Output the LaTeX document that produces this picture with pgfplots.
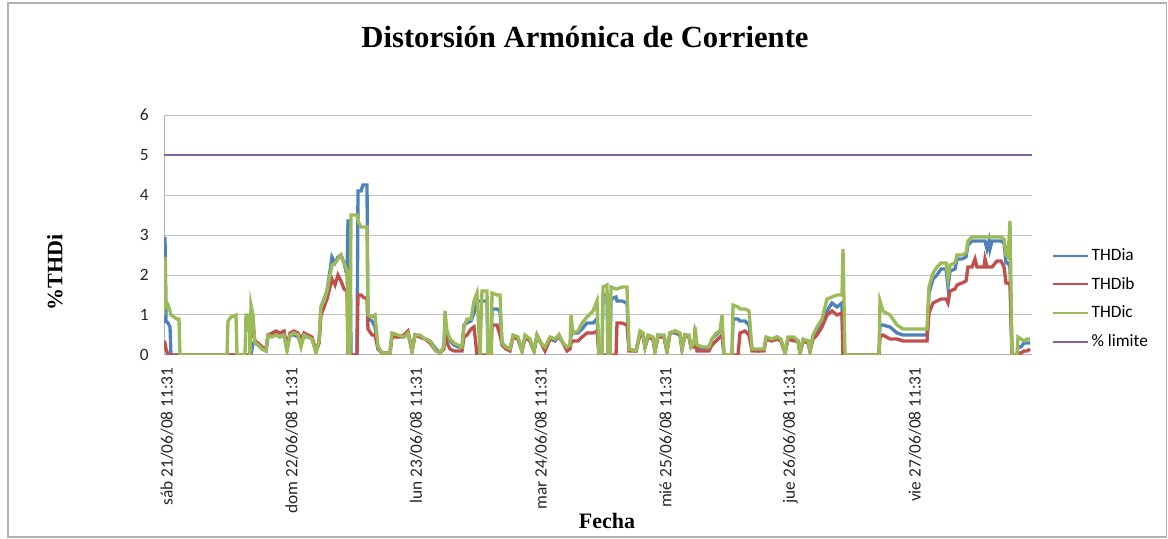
\documentclass[border=0pt]{standalone}
\usepackage{pgfplots}
\pgfplotsset{compat=1.18}
\usepackage{pgfplotstable}
\usepackage{fontspec}
\setmainfont{Liberation Serif}
\newfontfamily\calibri{Carlito}
\definecolor{thda}{RGB}{79,129,189}
\definecolor{thdb}{RGB}{192,80,77}
\definecolor{thdc}{RGB}{155,187,89}
\definecolor{lim}{RGB}{128,100,162}

% x: muestras desde sab 21/06/08 11:31 (124.7 por dia)
\pgfplotstableread{
x a b c
-3 0.8 0.35 1.0
-2 2.95 0.3 2.45
-1 0.85 0.15 1.2
1 0.8 0 1.25
3 0.7 0 1.1
4 0 0 1.0
7 0 0 0.95
10 0 0 0.9
12 0 0 0.9
13 0 0 0
60 0 0 0
61 0 0 0.85
64 0 0 0.95
69 0 0 1.0
70 0 0 0
78 0 0 0
79 0 0 1.0
82 0 0 1.0
83 0 0 0
84 0 1.0 1.25
86 0.3 0.6 1.0
88 0.3 0.35 0.3
91 0.25 0.3 0.25
95 0.15 0.2 0.15
99 0.1 0.15 0.1
101 0.45 0.5 0.5
105 0.5 0.55 0.45
109 0.5 0.6 0.5
113 0.45 0.55 0.45
117 0.5 0.6 0.5
120 0.15 0.2 0.1
123 0.5 0.55 0.5
127 0.5 0.6 0.55
131 0.45 0.55 0.5
134 0.3 0.4 0.2
137 0.45 0.55 0.5
141 0.45 0.5 0.45
145 0.4 0.45 0.4
149 0.1 0.1 0.05
152 0.3 0.3 0.35
154 1.2 1.0 1.2
157 1.4 1.2 1.35
160 1.6 1.4 1.6
163 2.1 1.7 2.0
165 2.45 1.9 2.25
168 2.3 1.75 2.3
171 2.45 2.0 2.4
174 2.5 1.85 2.5
177 2.3 1.65 2.3
180 2.0 1.6 2.1
181 3.35 0 0
183 3.35 0 0
184 0 0 3.5
190 0 0 3.5
191 4.1 1.5 3.35
194 4.1 1.5 3.2
196 4.25 1.45 3.2
200 4.25 1.4 3.2
201 0.9 0.65 1.0
205 0.85 0.5 0.95
208 0.7 0.5 1.0
211 0.2 0.15 0.2
215 0.05 0.05 0.05
223 0.05 0.05 0.05
225 0.5 0.45 0.55
231 0.45 0.45 0.5
237 0.45 0.5 0.45
241 0.55 0.6 0.55
245 0.1 0.1 0.1
248 0.5 0.5 0.5
253 0.45 0.45 0.5
258 0.4 0.4 0.4
263 0.35 0.3 0.35
269 0.15 0.1 0.1
273 0.05 0.05 0.05
277 0.2 0.15 0.2
278 0.8 0.6 1.1
280 0.55 0.3 0.6
283 0.35 0.15 0.4
287 0.25 0.1 0.3
291 0.2 0.1 0.25
295 0.2 0.1 0.2
297 0.75 0.45 0.7
300 0.8 0.5 0.9
304 0.85 0.65 0.9
307 1.05 0.7 1.35
310 1.35 0 1.55
313 1.35 0 0
315 1.35 0 1.6
320 1.35 0 1.6
321 0 0 0
324 0 0 0
325 1.15 0.75 1.55
330 1.15 0.75 1.5
333 1.1 0.5 1.5
335 0.3 0.25 0.3
339 0.2 0.15 0.2
343 0.15 0.1 0.15
346 0.45 0.45 0.5
351 0.4 0.4 0.45
355 0.1 0.1 0.1
358 0.45 0.45 0.5
363 0.35 0.35 0.4
367 0.1 0.1 0.1
370 0.45 0.5 0.5
374 0.3 0.3 0.3
378 0.15 0.1 0.2
383 0.4 0.4 0.45
388 0.35 0.4 0.4
392 0.5 0.45 0.5
396 0.3 0.3 0.3
400 0.15 0.1 0.2
403 0.2 0.15 0.25
404 0.5 0.3 1.0
406 0.55 0.35 0.55
411 0.55 0.35 0.6
415 0.65 0.45 0.8
420 0.8 0.55 0.95
426 0.8 0.55 1.1
430 0.9 0.6 1.35
432 0 0 0
435 0 0 0
436 1.5 0 1.7
440 1.5 0 1.75
441 0 0 0
443 0 0 0
444 1.4 0 1.7
449 1.45 0 1.65
450 1.35 0.8 1.65
455 1.35 0.8 1.7
460 1.3 0.75 1.7
462 0.15 0.1 0.15
469 0.1 0.1 0.1
473 0.55 0.5 0.6
476 0.5 0.5 0.55
478 0.2 0.2 0.2
481 0.45 0.45 0.5
486 0.4 0.4 0.45
488 0.1 0.1 0.1
491 0.5 0.45 0.5
497 0.45 0.45 0.5
500 0.1 0.1 0.1
503 0.55 0.55 0.55
508 0.55 0.6 0.6
513 0.5 0.5 0.55
515 0.15 0.15 0.15
518 0.5 0.5 0.5
522 0.45 0.45 0.5
524 0.2 0.2 0.2
527 0.25 0.2 0.3
528 0.5 0.4 0.7
530 0.2 0.1 0.25
536 0.15 0.1 0.2
542 0.2 0.1 0.2
545 0.4 0.25 0.4
549 0.5 0.35 0.55
553 0.6 0.45 0.6
555 0.7 0.5 1.0
557 0 0 0
565 0 0 0
566 0.9 0 1.25
571 0.9 0 1.2
573 0.85 0.55 1.15
578 0.85 0.6 1.15
582 0.75 0.5 1.1
585 0.15 0.1 0.15
591 0.1 0.1 0.15
597 0.15 0.1 0.15
599 0.4 0.4 0.45
605 0.4 0.35 0.4
610 0.45 0.4 0.45
614 0.35 0.35 0.4
618 0.05 0.05 0.05
621 0.4 0.4 0.45
627 0.4 0.35 0.45
631 0.35 0.35 0.35
633 0.05 0.05 0.05
636 0.35 0.35 0.4
641 0.35 0.3 0.35
643 0.1 0.1 0.1
646 0.45 0.4 0.5
650 0.6 0.5 0.7
655 0.8 0.7 0.9
660 1.1 1.0 1.4
665 1.3 1.1 1.45
670 1.2 1.0 1.5
675 1.3 1.05 1.5
676 0 0 2.65
678 0 0 0
712 0 0 0
713 0.75 0.45 1.35
716 0.75 0.5 1.1
723 0.7 0.4 1.0
730 0.55 0.4 0.75
736 0.5 0.35 0.65
760 0.5 0.35 0.65
762 1.55 1.05 1.7
766 1.9 1.3 2.05
770 2.0 1.35 2.2
774 2.15 1.4 2.3
779 2.15 1.4 2.3
781 1.7 1.3 1.9
783 2.1 1.6 2.25
788 2.15 1.65 2.3
790 2.4 1.75 2.5
795 2.4 1.8 2.5
799 2.45 1.85 2.55
801 2.75 2.2 2.85
805 2.85 2.2 2.95
808 2.85 2.4 2.95
810 2.85 2.2 2.95
817 2.85 2.2 2.95
818 2.85 2.4 2.95
820 2.65 2.2 2.95
822 2.85 2.2 2.95
823 2.65 2.2 2.95
825 2.85 2.2 2.95
830 2.85 2.35 2.95
834 2.85 2.35 2.95
837 2.8 2.2 2.9
839 2.3 1.8 2.5
841 2.3 1.8 2.45
843 2.2 1.75 3.35
845 0 0 0
850 0 0 0
851 0.2 0.05 0.45
854 0.2 0.05 0.4
857 0.3 0.1 0.35
860 0.3 0.1 0.4
863 0.3 0.15 0.4
}\thd

\begin{document}
\begin{tikzpicture}
\useasboundingbox (0,0) rectangle (876pt,404.25pt);
\draw[gray!60, line width=1pt] (6pt,1.5pt) rectangle (875pt,402pt);
\begin{axis}[
  at={(123pt,138pt)}, anchor=south west,
  scale only axis, width=651pt, height=180pt,
  xmin=-3, xmax=865, ymin=0, ymax=6,
  ytick={0,1,...,6},
  xtick={0,124.7,249.3,374,498.7,623.3,748},
  xticklabels={sáb 21/06/08 11:31, dom 22/06/08 11:31, lun 23/06/08 11:31,
    mar 24/06/08 11:31, mié 25/06/08 11:31, jue 26/06/08 11:31, vie 27/06/08 11:31},
  x tick label style={rotate=90, anchor=east, xshift=-6pt},
  yticklabel style={xshift=-8pt},
  tick label style={font=\calibri\fontsize{13}{15}\selectfont, text=black!85},
  /pgf/number format/assume math mode=true,
  major tick length=0pt,
  axis x line*=bottom, axis y line*=left,
  axis line style={gray!60, line width=0.75pt},
  ymajorgrids, grid style={gray!50, line width=0.75pt},
  legend style={draw=none, fill=none, at={(1,0.235)}, anchor=west, xshift=12pt,
    font=\calibri\fontsize{13}{15}\selectfont, row sep=7pt, cells={anchor=west}},
  legend image code/.code={\draw[#1, line width=1.5pt] (0pt,0pt) -- (26pt,0pt);},
]
\addplot[thda, line width=2.5pt] table[x=x, y=a] {\thd};
\addplot[thdb, line width=2.5pt] table[x=x, y=b] {\thd};
\addplot[thdc, line width=2.5pt] table[x=x, y=c] {\thd};
\addplot[lim, line width=1.5pt] coordinates {(-3,5) (865,5)};
\legend{THDia, THDib, THDic, \% limite}
\end{axis}
\node at (438.75pt,376.5pt) {\bfseries\fontsize{23}{27}\selectfont Distorsión Armónica de Corriente};
\node[rotate=90] at (41.25pt,200pt) {\bfseries\fontsize{16.5}{20}\selectfont \%THDi};
\node at (455.25pt,13.5pt) {\bfseries\fontsize{16.5}{20}\selectfont Fecha};
\end{tikzpicture}
\end{document}
